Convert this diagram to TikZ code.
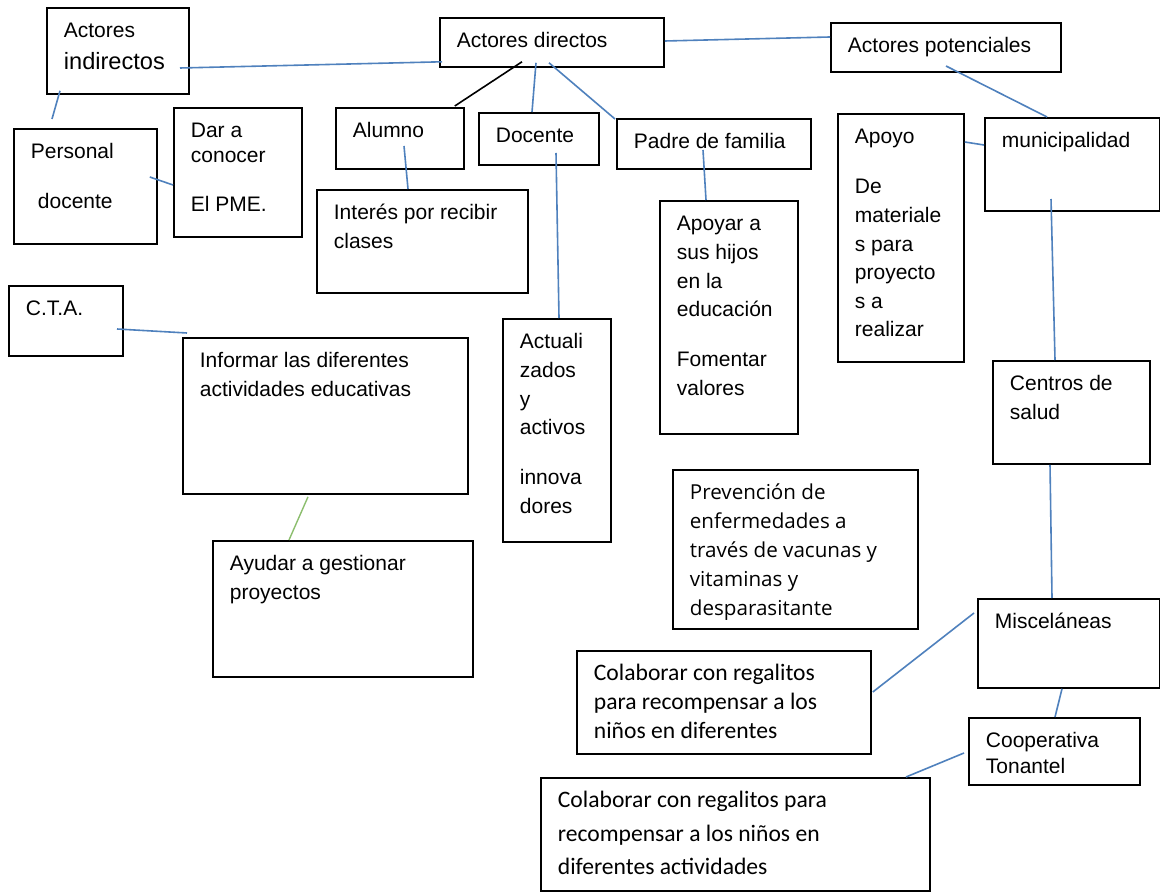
\documentclass[tikz,border=0pt]{standalone}
\usepackage{fontspec}
\setmainfont{Liberation Sans}
\newfontfamily\calibrifont{Carlito}
\newfontfamily\opensansfont{Open Sans}
\usepackage{tikz}
\usetikzlibrary{calc}

\definecolor{linkblue}{RGB}{79,129,189}
\definecolor{linkgreen}{RGB}{140,190,110}

% box text: width, height, lines (first baseline 15pt below the top)
\newcommand{\boxtxt}[3]{\parbox[c][#2][t]{#1}{\raggedright\leftskip=8.5pt\vspace*{\dimexpr15pt-\ht\strutbox\relax}\strut#3\par}}

\begin{document}
\begin{tikzpicture}[
  x=0.5pt, y=-0.5pt,
  actor/.style={draw=black, line width=0.9pt, anchor=north west, inner sep=0pt, font=\fontsize{10.5}{14.3}\selectfont},
  link/.style={draw=linkblue, line width=0.8pt},
]
  \useasboundingbox[fill=white] (0,0) rectangle (1160,892);

  % actores
  \node[actor] (ind) at (46,7) {\boxtxt{71pt}{43pt}{Actores\\[1.5pt]{\fontsize{11.8}{14.3}\selectfont indirectos}}};
  \node[actor] (dir) at (439,17) {\boxtxt{112pt}{24.5pt}{Actores directos}};
  \node[actor] (pot) at (830,22) {\boxtxt{115pt}{24.5pt}{Actores potenciales}};

  % indirectos
  \node[actor] (pers) at (13,128) {\boxtxt{71.5pt}{57.5pt}{Personal\\[10.7pt]\hspace*{3.5pt}docente}};
  \node[actor] (dar) at (173,107) {\boxtxt{64pt}{64.5pt}{Dar a\\[-2pt]conocer\\[10.2pt]El PME.}};
  \node[actor] (cta) at (8,285) {\boxtxt{57pt}{35pt}{C.T.A.}};
  \node[actor] (inf) at (182,337) {\boxtxt{142.5pt}{78pt}{Informar las diferentes\\actividades educativas}};
  \node[actor] (ayu) at (212,540) {\boxtxt{130pt}{68pt}{Ayudar a gestionar\\proyectos}};

  % directos
  \node[actor] (alum) at (335,107) {\boxtxt{64pt}{30.5pt}{Alumno}};
  \node[actor] (doc) at (478,112) {\boxtxt{60pt}{26pt}{Docente}};
  \node[actor] (padre) at (616,118) {\boxtxt{97pt}{25pt}{Padre de familia}};
  \node[actor] (inter) at (316,189) {\boxtxt{105.5pt}{51.5pt}{Interés por recibir\\clases}};
  \node[actor] (act) at (502,318) {\boxtxt{54pt}{111.5pt}{Actuali\\zados\\y\\activos\\[10.7pt]innova\\dores}};
  \node[actor] (apoyar) at (659,200) {\boxtxt{69pt}{116.5pt}{Apoyar a\\sus hijos\\en la\\educación\\[10.7pt]Fomentar\\valores}};

  % potenciales
  \node[actor] (muni) at (984,117) {\boxtxt{87.5pt}{46.5pt}{municipalidad}};
  \node[actor] (apoyo) at (837,113) {\boxtxt{63pt}{124pt}{Apoyo\\[10.7pt]De\\materiale\\s para\\proyecto\\s a\\realizar}};
  \node[actor] (cen) at (992,360) {\boxtxt{78.5pt}{51.5pt}{Centros de\\salud}};
  \node[actor, font=\opensansfont\fontsize{10.3}{14.5}\selectfont] (prev) at (672,469) {\boxtxt{122.5pt}{79.5pt}{Prevención de\\enfermedades a\\través de vacunas y\\vitaminas y\\desparasitante}};
  \node[actor] (misc) at (977,598) {\boxtxt{91pt}{44.5pt}{Misceláneas}};
  \node[actor, font=\calibrifont\fontsize{11.8}{14.3}\selectfont] (col1) at (576,650) {\boxtxt{147pt}{51.5pt}{Colaborar con regalitos\\para recompensar a los\\niños en diferentes}};
  \node[actor] (coop) at (968,717) {\boxtxt{85.5pt}{33.5pt}{Cooperativa\\[-1.5pt]Tonantel}};
  \node[actor, font=\calibrifont\fontsize{11.8}{16.75}\selectfont] (col2) at (540,777) {\boxtxt{194.5pt}{56.5pt}{Colaborar con regalitos para\\recompensar a los niños en\\diferentes actividades}};

  % lineas
  \draw[link] ($(ind.north west)+(134,61)$) -- ($(dir.south west)+(3,-6)$);
  \draw[link] ($(ind.south west)+(14,-4)$) -- ($(pers.north west)+(39,-9)$);
  \draw[link] ($(pers.north east)+(-8,49)$) -- ($(dar.north west)+(0,78)$);
  \draw[black, line width=0.8pt] ($(dir.south west)+(83,-6)$) -- ($(alum.north east)+(-10,-1)$);
  \draw[link] ($(dir.south west)+(97,-5)$) -- ($(doc.north west)+(54,0)$);
  \draw[link] ($(dir.south west)+(110,-5)$) -- ($(padre.north west)+(-1,1)$);
  \draw[link] ($(dir.north east)+(0,24)$) -- ($(pot.north west)+(0,15)$);
  \draw[link] ($(alum.north west)+(69,39)$) -- ($(inter.north west)+(92,0)$);
  \draw[link] ($(doc.north west)+(78,41)$) -- ($(act.north west)+(57,0)$);
  \draw[link] ($(padre.north west)+(87,32)$) -- ($(apoyar.north west)+(47,0)$);
  \draw[link] ($(pot.north west)+(116,44)$) -- ($(muni.north west)+(63,0)$);
  \draw[link] ($(apoyo.north east)+(0,29)$) -- ($(muni.north west)+(0,28)$);
  \draw[link] ($(muni.north west)+(67,82)$) -- ($(cen.north west)+(63,0)$);
  \draw[link] ($(cen.south west)+(58,0)$) -- ($(misc.north west)+(75,0)$);
  \draw[link] ($(misc.north west)+(-3,15)$) -- ($(col1.north east)+(1,42)$);
  \draw[link] ($(misc.south west)+(85,0)$) -- ($(coop.north west)+(87,0)$);
  \draw[link] ($(coop.north west)+(-4,36)$) -- ($(col2.north west)+(366,0)$);
  \draw[link] ($(cta.north west)+(109,44)$) -- ($(inf.north west)+(5,-4)$);
  \draw[draw=linkgreen, line width=0.7pt] ($(inf.south west)+(126,2)$) -- ($(ayu.north west)+(77,0)$);
\end{tikzpicture}
\end{document}
